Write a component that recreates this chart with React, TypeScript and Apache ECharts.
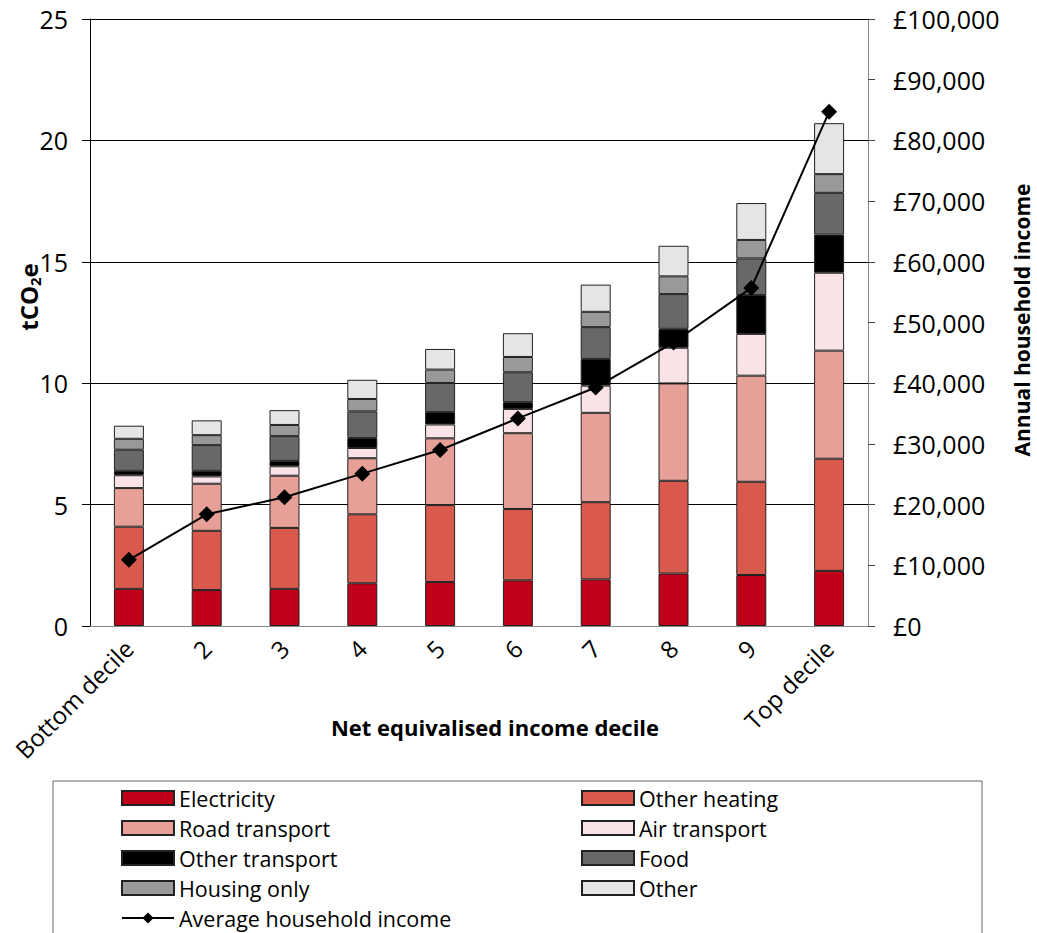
import React, { useEffect, useRef } from "react";
import * as echarts from "echarts";

const categories = ["Bottom decile", "2", "3", "4", "5", "6", "7", "8", "9", "Top decile"];

const electricity = [1.53, 1.48, 1.53, 1.76, 1.81, 1.88, 1.92, 2.16, 2.1, 2.27];
const otherHeating = [2.56, 2.44, 2.51, 2.84, 3.17, 2.94, 3.18, 3.82, 3.84, 4.62];
const roadTransport = [1.59, 1.94, 2.15, 2.31, 2.75, 3.12, 3.68, 4.01, 4.37, 4.45];
const airTransport = [0.53, 0.3, 0.39, 0.42, 0.57, 1.0, 1.12, 1.47, 1.72, 3.21];
const otherTransport = [0.18, 0.23, 0.22, 0.41, 0.51, 0.28, 1.1, 0.78, 1.6, 1.57];
const food = [0.87, 1.06, 1.02, 1.1, 1.2, 1.23, 1.31, 1.43, 1.51, 1.72];
const housingOnly = [0.45, 0.41, 0.46, 0.51, 0.55, 0.63, 0.63, 0.73, 0.76, 0.77];
const other = [0.54, 0.61, 0.61, 0.79, 0.85, 0.98, 1.12, 1.26, 1.52, 2.1];

const averageIncome = [10900, 18400, 21200, 25100, 29000, 34200, 39300, 46700, 55700, 84700];

const emissionTicks = { min: 0, max: 25, interval: 5 };
const incomeTicks = { min: 0, max: 100000, interval: 10000 };

const FONT = "'Open Sans', 'DejaVu Sans', sans-serif";

export default function App() {
  const ref = useRef<HTMLDivElement>(null);

  useEffect(() => {
    if (!ref.current) return;
    const chart = echarts.init(ref.current, null, { renderer: "svg" });

    const stackDefs = [
      { name: "Electricity", data: electricity, color: "#C00018" },
      { name: "Other heating", data: otherHeating, color: "#D95A4C" },
      { name: "Road transport", data: roadTransport, color: "#E6A098" },
      { name: "Air transport", data: airTransport, color: "#F9E3E6" },
      { name: "Other transport", data: otherTransport, color: "#000000" },
      { name: "Food", data: food, color: "#686868" },
      { name: "Housing only", data: housingOnly, color: "#999999" },
      { name: "Other", data: other, color: "#E5E5E5" },
    ];

    const barSeries = stackDefs.map((d) => ({
      name: d.name,
      type: "bar",
      stack: "co2",
      data: d.data,
      barWidth: 30,
      yAxisIndex: 0,
      itemStyle: { color: d.color, borderColor: "#222", borderWidth: 1 },
      emphasis: { disabled: true },
    }));

    const legendCommon = {
      orient: "vertical",
      top: 787,
      height: 200,
      padding: 0,
      itemWidth: 52,
      itemHeight: 14,
      itemGap: 8,
      selectedMode: false,
      textStyle: { fontFamily: FONT, fontSize: 21.5, color: "#000", lineHeight: 22 },
    };

    chart.setOption({
      animation: false,
      backgroundColor: "#fff",
      textStyle: { fontFamily: FONT },
      grid: { left: 90, right: 169, top: 19, bottom: 307, containLabel: false },
      xAxis: {
        type: "category",
        data: categories,
        axisLine: { show: true, lineStyle: { color: "#888", width: 1 } },
        axisTick: { show: false },
        axisLabel: {
          rotate: 45,
          margin: 18,
          fontSize: 24,
          color: "#000",
          fontFamily: FONT,
          interval: 0,
        },
      },
      yAxis: [
        {
          type: "value",
          ...emissionTicks,
          position: "left",
          axisLine: { show: true, lineStyle: { color: "#000", width: 1 } },
          axisTick: { show: true, inside: false, length: 8, lineStyle: { color: "#000" } },
          axisLabel: { fontSize: 25, color: "#000", margin: 22, fontFamily: FONT },
          splitLine: { show: true, lineStyle: { color: "#000", width: 1 } },
        },
        {
          type: "value",
          ...incomeTicks,
          position: "right",
          axisLine: { show: true, lineStyle: { color: "#888", width: 1 } },
          axisTick: { show: true, inside: false, length: 7, lineStyle: { color: "#444" } },
          axisLabel: {
            fontSize: 25,
            color: "#000",
            margin: 25,
            fontFamily: FONT,
            formatter: (v: number) => "£" + v.toLocaleString("en-GB"),
          },
          splitLine: { show: false },
        },
      ],
      legend: [
        {
          ...legendCommon,
          left: 121,
          data: [
            { name: "Electricity", icon: "rect" },
            { name: "Road transport", icon: "rect" },
            { name: "Other transport", icon: "rect" },
            { name: "Housing only", icon: "rect" },
            { name: "Average household income" },
          ],
        },
        {
          ...legendCommon,
          left: 581,
          data: [
            { name: "Other heating", icon: "rect" },
            { name: "Air transport", icon: "rect" },
            { name: "Food", icon: "rect" },
            { name: "Other", icon: "rect" },
          ],
        },
      ],
      graphic: [
        {
          type: "rect",
          shape: { x: 53, y: 781, width: 929, height: 200 },
          style: { fill: "none", stroke: "#666", lineWidth: 1 },
          silent: true,
        },
        {
          type: "text",
          x: 28,
          y: 297,
          rotation: Math.PI / 2,
          style: {
            text: "{a|tCO}{b|2}{a|e}",
            align: "center",
            verticalAlign: "middle",
            rich: {
              a: { fontFamily: FONT, fontSize: 24, fontWeight: "bold", fill: "#000", lineHeight: 28 },
              b: { fontFamily: FONT, fontSize: 15, fontWeight: "bold", fill: "#000", lineHeight: 15, verticalAlign: "bottom" },
            },
          },
        },
        {
          type: "text",
          x: 1022,
          y: 320,
          rotation: Math.PI / 2,
          style: {
            text: "Annual household income",
            align: "center",
            verticalAlign: "middle",
            fontFamily: FONT,
            fontSize: 21,
            fontWeight: "bold",
            fill: "#000",
          },
        },
        {
          type: "text",
          x: 495,
          y: 727,
          style: {
            text: "Net equivalised income decile",
            align: "center",
            verticalAlign: "middle",
            fontFamily: FONT,
            fontSize: 22,
            fontWeight: "bold",
            fill: "#000",
          },
        },
      ],
      series: [
        ...barSeries,
        {
          name: "Average household income",
          type: "line",
          yAxisIndex: 1,
          data: averageIncome,
          symbol: "diamond",
          symbolSize: 16,
          lineStyle: { color: "#000", width: 2 },
          itemStyle: { color: "#000" },
          emphasis: { disabled: true },
          z: 10,
        },
      ],
    });

    return () => chart.dispose();
  }, []);

  return (
    <div
      ref={ref}
      style={{ position: "fixed", left: 0, top: 0, width: 1037, height: 933, background: "#fff" }}
    />
  );
}
